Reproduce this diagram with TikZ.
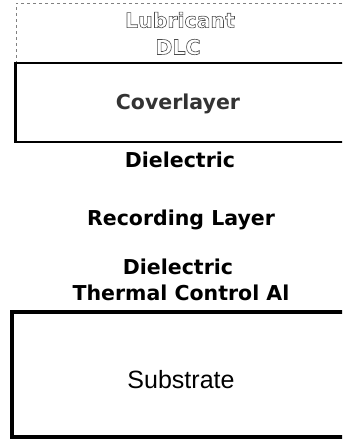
\documentclass[tikz,border=0pt]{standalone}
\usepackage{fontspec}
\setmainfont{DejaVu Sans}
\newfontfamily\arialfont{Liberation Sans}
\newcommand{\outlinetext}[1]{\special{pdf:code 1 Tr 0.6 w}#1\special{pdf:code 0 Tr}}
\begin{document}
\begin{tikzpicture}[x=1pt,y=1pt,
  lbl/.style={font=\fontsize{20.5}{24}\selectfont\bfseries, text=black, inner sep=0pt},
  ghost/.style={font=\fontsize{20.5}{24}\selectfont\bfseries, text=black!70, inner sep=0pt},
  layerbox/.style={draw=black, line width=2.6pt, fill=white, inner sep=0pt}]
\useasboundingbox (0,0) rectangle (342,446);
\clip (0,0) rectangle (342,446);
% top lubricant / DLC region
\node[draw=black!50, dashed, line width=0.7pt, minimum width=334pt, minimum height=60pt, inner sep=0pt] (toparea) at (183,412.5) {};
\node[ghost] (lub) at (180,426) {\outlinetext{Lubricant}};
\node[ghost] (dlc) at (178,399) {\outlinetext{DLC}};
% coverlayer
\node[layerbox, minimum width=331pt, minimum height=79pt] (cover) at (181,343.5) {};
\node[lbl, text=black!80] (covertxt) at (178,342) {Coverlayer};
% free text layers
\node[lbl] (diel1) at (180,286) {Dielectric};
\node[lbl] (rec) at (181,226) {Recording Layer};
\node[lbl] (diel2) at (178,179) {Dielectric};
\node[lbl] (therm) at (181,153) {Thermal Control Al};
% substrate
\node[layerbox, line width=3.4pt, minimum width=334pt, minimum height=125pt] (sub) at (179,71.5) {};
\node[font=\arialfont\fontsize{25}{28}\selectfont, inner sep=0pt] (subtxt) at (181,66) {Substrate};
\end{tikzpicture}
\end{document}
